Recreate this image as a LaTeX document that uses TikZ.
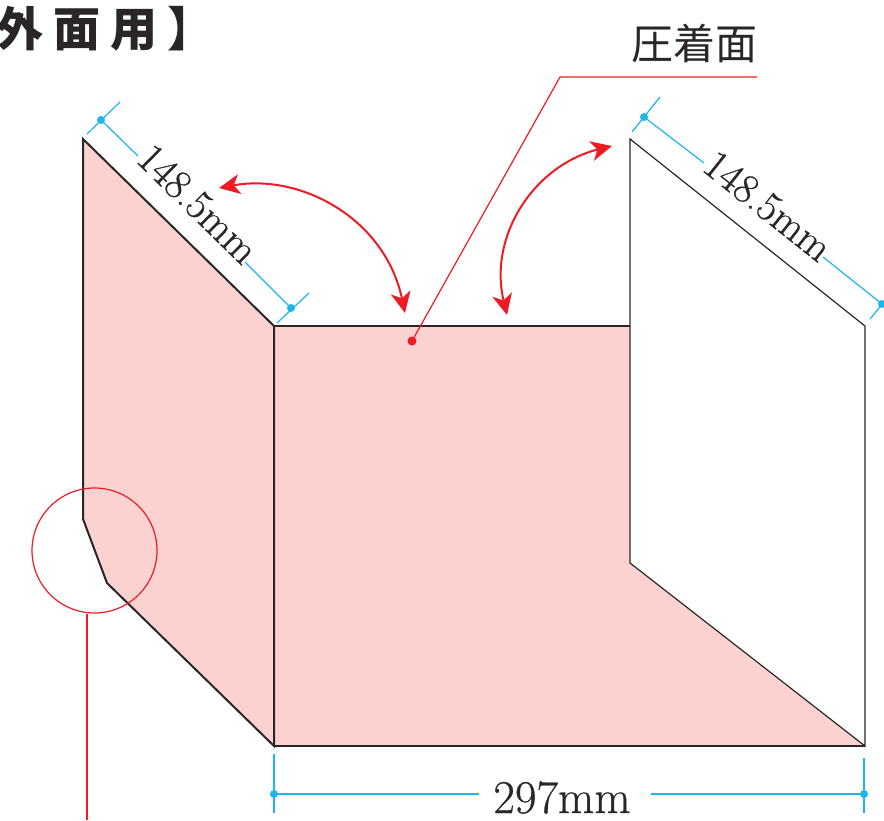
\documentclass[tikz,border=0pt]{standalone}
\usepackage{fontspec}
\setmainfont{Latin Modern Roman}[FakeBold=0.6]
\newfontfamily\jpfont{Noto Sans CJK JP}
\usetikzlibrary{arrows.meta}
\definecolor{pinkfill}{HTML}{FBD2D0}
\definecolor{redline}{HTML}{ED1C24}
\definecolor{dimblue}{HTML}{1CB5EC}
\definecolor{inkline}{HTML}{2A2627}
\tikzset{
  x=1pt,y=-1pt,
  panelthick/.style={draw=inkline,line width=2pt,line join=miter},
  panelthin/.style={draw=inkline,line width=1.2pt,line join=miter},
  dimline/.style={draw=dimblue,line width=1.2pt},
  dimdot/.style={circle,fill=dimblue,inner sep=0pt,minimum size=8pt},
  leader/.style={draw=redline,line width=1.2pt},
  swing/.style={draw=redline,line width=2pt,{Stealth[length=21pt,width=20pt,inset=6pt]}-{Stealth[length=21pt,width=20pt,inset=6pt]}},
  dimtext/.style={font=\fontsize{41.5}{41.5}\selectfont,inner sep=0pt,text=inkline},
}
\begin{document}
\begin{tikzpicture}
\useasboundingbox (0,0) rectangle (884,820);
% panel corners
\coordinate (lt) at (83,139);
\coordinate (lc) at (83,519);
\coordinate (ld) at (107,583);
\coordinate (bt) at (274,326);
\coordinate (bb) at (274,746);
\coordinate (ft) at (630,326);
\coordinate (fb) at (630,563);
\coordinate (rt) at (630,139);
\coordinate (rm) at (865,326);
\coordinate (rb) at (865,746);
% fills
\fill[pinkfill] (lt)--(bt)--(bb)--(ld)--(lc)--cycle;
\fill[pinkfill] (bt)--(ft)--(fb)--(rb)--(bb)--cycle;
% outlines
\draw[panelthin] (fb)--(rb)--(rm)--(rt)--cycle;
\draw[panelthick] (bt)--(lt)--(lc)--(ld)--(bb)--cycle;
\draw[panelthick] (bt)--(ft);
\draw[panelthick] (bb)--(rb);
% title
\node[anchor=base west,inner sep=0pt,text=inkline,font=\jpfont\bfseries\fontsize{47}{47}\selectfont] (title) at (-3.5,46) {外\kern10pt 面\kern10pt 用\kern10pt 】};
% bond-face label and leader
\node[anchor=base,inner sep=0pt,text=inkline,font=\jpfont\fontsize{42}{42}\selectfont] (bond) at (694,59) {圧着面};
\coordinate (lk) at (560,77);
\coordinate (lend) at (757,77);
\node[circle,fill=redline,inner sep=0pt,minimum size=9pt] (bonddot) at (412,341) {};
\draw[leader] (bonddot.center)--(lk)--(lend);
% circle callout
\node[circle,draw=redline,line width=1.2pt,minimum size=125pt,inner sep=0pt] (detail) at (94.5,550.5) {};
\coordinate (detailstart) at (87,614);
\coordinate (detailend) at (87,820);
\draw[leader] (detailstart)--(detailend);
% swing arrows
\coordinate (a1) at (219,188);
\coordinate (a2) at (405,313);
\coordinate (b1) at (612,146);
\coordinate (b2) at (507,315);
\draw[swing] (a1) .. controls (300,173) and (385,218) .. (a2);
\draw[swing] (b1) .. controls (535,165) and (488,235) .. (b2);
% left dimension
\node[dimdot] (d1) at (101,120) {};
\node[dimdot] (d2) at (291,308) {};
\coordinate (d1a) at (87,134); \coordinate (d1b) at (120,102);
\coordinate (d2a) at (277,323); \coordinate (d2b) at (309,293);
\draw[dimline] (d1a)--(d1b);
\draw[dimline] (d2a)--(d2b);
\node[dimtext,rotate=-44.5] (t1) at (198,204) {148.5mm};
\coordinate (d1c) at (138,156); \coordinate (d2c) at (245,262);
\draw[dimline] (d1.center)--(d1c);
\draw[dimline] (d2c)--(d2.center);
% right dimension
\node[dimdot] (e1) at (644,117) {};
\node[dimdot] (e2) at (882,304) {};
\coordinate (e1a) at (632,132); \coordinate (e1b) at (660,97);
\coordinate (e2a) at (870,319); \coordinate (e2b) at (884,302);
\draw[dimline] (e1a)--(e1b);
\draw[dimline] (e2a)--(e2b);
\node[dimtext,rotate=-38.5] (t2) at (768,206) {148.5mm};
\coordinate (e1c) at (704,163); \coordinate (e2c) at (823,257);
\draw[dimline] (e1.center)--(e1c);
\draw[dimline] (e2c)--(e2.center);
% bottom dimension
\node[dimdot] (f1) at (274,794) {};
\node[dimdot] (f2) at (864,794) {};
\coordinate (f1a) at (274,754); \coordinate (f1b) at (274,813);
\coordinate (f2a) at (864,758); \coordinate (f2b) at (864,813);
\draw[dimline] (f1a)--(f1b);
\draw[dimline] (f2a)--(f2b);
\node[dimtext,anchor=base,font=\fontsize{47}{47}\selectfont] (t3) at (562,813) {297mm};
\coordinate (f1c) at (479,794); \coordinate (f2c) at (651,794);
\draw[dimline] (f1.center)--(f1c);
\draw[dimline] (f2c)--(f2.center);
\end{tikzpicture}
\end{document}
